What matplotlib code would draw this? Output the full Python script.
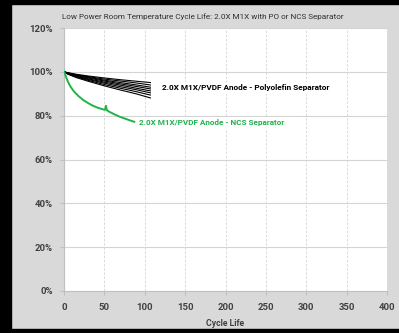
import numpy as np
import matplotlib.pyplot as plt
from matplotlib.patches import Rectangle
from matplotlib.ticker import FuncFormatter

plt.rcParams['font.family'] = ['Roboto', 'DejaVu Sans']

# Polyolefin separator cells: recovered capacity (%) vs cycle
po_cycles = [0, 5, 15, 30, 50, 70, 90, 107]
po_cells = [
    [100, 99.6, 98.9, 98.1, 97.2, 96.4, 95.7, 95.1],
    [100, 99.5, 98.7, 97.8, 96.7, 95.8, 94.9, 94.0],
    [100, 99.4, 98.5, 97.5, 96.2, 95.1, 94.0, 93.0],
    [100, 99.3, 98.3, 97.2, 95.8, 94.5, 93.3, 92.2],
    [100, 99.2, 98.1, 96.8, 95.3, 93.9, 92.5, 91.3],
    [100, 99.1, 97.9, 96.5, 94.8, 93.2, 91.8, 90.4],
    [100, 99.0, 97.7, 96.1, 94.2, 92.5, 90.9, 89.4],
    [100, 98.9, 97.4, 95.7, 93.6, 91.7, 89.9, 88.1],
]

# NCS separator cell
ncs_cycles = [0, 1, 3, 5, 8, 12, 18, 24, 30, 36, 42, 48, 51, 52, 53, 56, 62, 69, 76, 82, 87]
ncs_values = [100, 99.4, 97.2, 95.4, 93.3, 91.2, 88.9, 87.1, 85.7, 84.5, 83.6, 82.9, 82.7,
              84.5, 82.5, 81.8, 80.7, 79.5, 78.6, 77.8, 77.2]

x_ticks = [0, 50, 100, 150, 200, 250, 300, 350, 400]
y_ticks = [0, 20, 40, 60, 80, 100, 120]

green = '#22b24c'
grid_col = '#d4d4d4'
text_col = '#404040'

fig = plt.figure(figsize=(3.99, 3.33), dpi=100, facecolor='#d9d9d9')

# black frame on left, top and bottom
fig.patches.append(Rectangle((0, 0), 11 / 399, 1, transform=fig.transFigure, color='black', zorder=0))
fig.patches.append(Rectangle((0, 1 - 4 / 333), 1, 4 / 333, transform=fig.transFigure, color='black', zorder=0))
fig.patches.append(Rectangle((0, 0), 1, 4 / 333, transform=fig.transFigure, color='black', zorder=0))

ax = fig.add_axes([64 / 399, 42 / 333, 323 / 399, 263 / 333])
ax.set_facecolor('white')

for c in po_cells:
    ax.plot(po_cycles, c, color='black', lw=0.8, zorder=3)
ax.plot(ncs_cycles, ncs_values, color=green, lw=1.4, zorder=3)

ax.set_xlim(0, 400)
ax.set_ylim(0, 120)
ax.set_xticks(x_ticks)
ax.set_yticks(y_ticks)
ax.yaxis.set_major_formatter(FuncFormatter(lambda v, p: f'{v:.0f}%'))

for v in x_ticks[1:]:
    ax.axvline(v, color=grid_col, lw=0.6, ls=(0, (3, 2)), zorder=1)
for v in y_ticks[1:]:
    ax.axhline(v, color=grid_col, lw=0.8, zorder=1)

for s in ['top', 'right']:
    ax.spines[s].set_visible(False)
for s in ['left', 'bottom']:
    ax.spines[s].set_color('#bfbfbf')
    ax.spines[s].set_linewidth(0.8)

ax.tick_params(axis='both', colors='#bfbfbf', labelcolor=text_col, length=3, width=0.8,
               labelsize=6.8)
for lab in ax.get_xticklabels() + ax.get_yticklabels():
    lab.set_fontweight('bold')
ax.tick_params(axis='x', pad=6)
ax.tick_params(axis='y', pad=5)

ax.set_xlabel('Cycle Life', fontsize=6.2, fontweight='bold', color=text_col, labelpad=5)
ax.set_ylabel('Recovered Capacity', fontsize=6.2, fontweight='bold', color=text_col, labelpad=12)

fig.text(62 / 399, 1 - 17 / 333, 'Low Power Room Temperature Cycle Life: 2.0X M1X with PO or NCS Separator',
         fontsize=5.9, color='#303030', va='center', ha='left')

ax.text(121, 92.7, '2.0X M1X/PVDF Anode - Polyolefin Separator', fontsize=5.95, fontweight='bold',
        color='black', va='center', ha='left', zorder=4,
        bbox=dict(fc='white', ec='none', pad=2))
ax.text(93, 76.7, '2.0X M1X/PVDF Anode - NCS Separator       ', fontsize=5.9, fontweight='bold',
        color=green, va='center', ha='left', zorder=4,
        bbox=dict(fc='white', ec='none', pad=2))

fig.savefig('out.png', dpi=100, facecolor=fig.get_facecolor())
